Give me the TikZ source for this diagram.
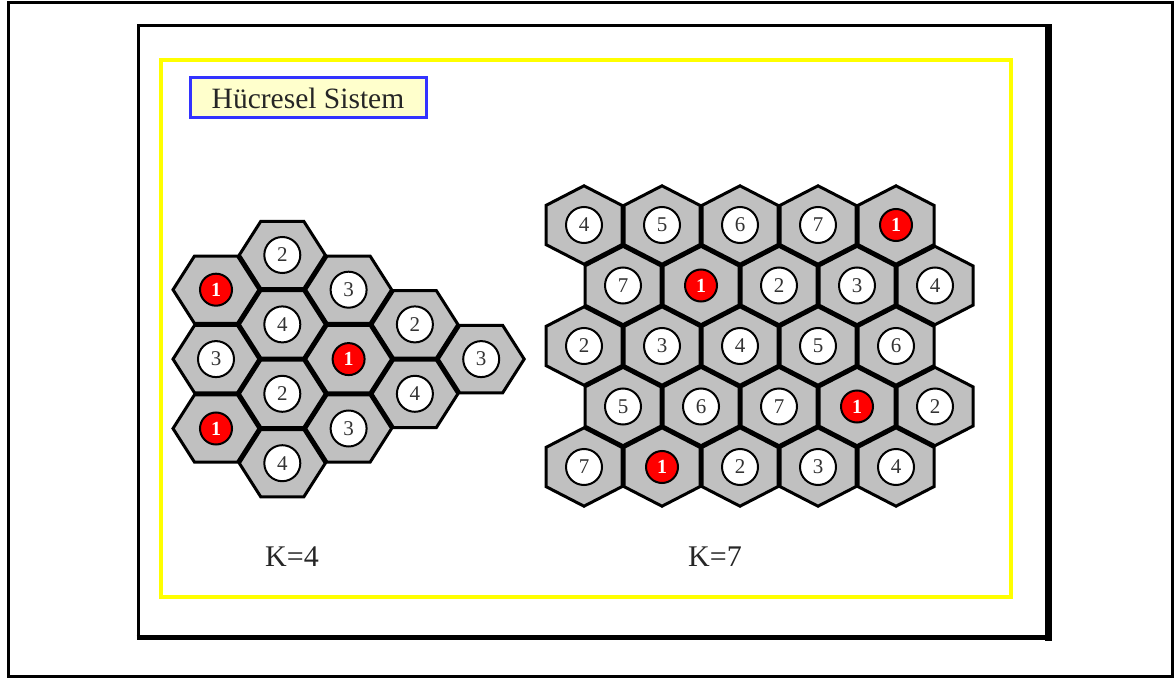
\documentclass[tikz,border=0pt]{standalone}
\usepackage{fontspec}
\setmainfont{Liberation Serif}
\definecolor{hexgray}{HTML}{C0C0C0}
\definecolor{boxblue}{HTML}{3333FF}
\definecolor{boxfill}{HTML}{FFFFCC}
\definecolor{frameyellow}{HTML}{FFFF00}
\definecolor{numgray}{HTML}{333333}
\newcommand\flathex[5]{%
  \draw[hexcell,shift={(#2,#3)}] (-43,0) -- (-21.5,-33.7) -- (21.5,-33.7) -- (43,0) -- (21.5,33.7) -- (-21.5,33.7) -- cycle;
  \node[#5] (#1) at (#2,#3) {#4};}
\newcommand\pointhex[5]{%
  \draw[hexcell,shift={(#2,#3)}] (0,-39.2) -- (38,-19.6) -- (38,19.6) -- (0,39.2) -- (-38,19.6) -- (-38,-19.6) -- cycle;
  \node[#5] (#1) at (#2,#3) {#4};}
\begin{document}
\begin{tikzpicture}[x=1pt,y=-1pt,
  cellnum/.style={circle,draw=black,line width=2pt,fill=white,minimum size=36pt,inner sep=0pt,
    font=\fontsize{21}{21}\selectfont,text=numgray},
  redcell/.style={cellnum,fill=red,minimum size=32pt,text=white,font=\fontsize{20}{20}\selectfont\bfseries},
  hexcell/.style={fill=hexgray,draw=black,line width=3pt,line join=miter},
  lbl/.style={font=\fontsize{30}{30}\selectfont,text=black!85,inner sep=0pt}]
\useasboundingbox (0,0) rectangle (1175,679);
\fill[white] (0,0) rectangle (1175,679);
% outer border
\draw[line width=3pt] (8,3) rectangle (1172,676);
% inner frame with heavier right and bottom edges
\draw[line width=3pt] (138.5,26) rectangle (1048.5,637.5);
\draw[line width=7pt] (1048.5,24.5) -- (1048.5,640.5);
\draw[line width=5pt] (136.5,637.5) -- (1052,637.5);
% yellow frame
\draw[frameyellow,line width=4pt] (161,60.5) rectangle (1011,597);
% title box
\node[draw=boxblue,fill=boxfill,line width=3pt,minimum width=236pt,minimum height=40pt,inner sep=0pt,
  font=\fontsize{29.5}{30}\selectfont,text=black!85] (title) at (308,98) {Hücresel Sistem};
% K=4 cluster
\foreach \c/\k/\n/\s [count=\i] in {0/1/1/redcell,0/3/3/cellnum,0/5/1/redcell,
    1/0/2/cellnum,1/2/4/cellnum,1/4/2/cellnum,1/6/4/cellnum,
    2/1/3/cellnum,2/3/1/redcell,2/5/3/cellnum,
    3/2/2/cellnum,3/4/4/cellnum,4/3/3/cellnum}{
  \pgfmathsetmacro\xx{216+66.3*\c}
  \pgfmathsetmacro\yy{255+34.7*\k}
  \edef\docell{\noexpand\flathex{L\i}{\xx}{\yy}{\n}{\s}}\docell
}
% K=7 cluster
\foreach \r/\c/\n/\s [count=\i] in {
    0/0/4/cellnum,0/1/5/cellnum,0/2/6/cellnum,0/3/7/cellnum,0/4/1/redcell,
    1/0/7/cellnum,1/1/1/redcell,1/2/2/cellnum,1/3/3/cellnum,1/4/4/cellnum,
    2/0/2/cellnum,2/1/3/cellnum,2/2/4/cellnum,2/3/5/cellnum,2/4/6/cellnum,
    3/0/5/cellnum,3/1/6/cellnum,3/2/7/cellnum,3/3/1/redcell,3/4/2/cellnum,
    4/0/7/cellnum,4/1/1/redcell,4/2/2/cellnum,4/3/3/cellnum,4/4/4/cellnum}{
  \pgfmathsetmacro\xx{584+78*\c+39*mod(\r,2)}
  \pgfmathsetmacro\yy{225+60.5*\r}
  \edef\docell{\noexpand\pointhex{R\i}{\xx}{\yy}{\n}{\s}}\docell
}
% labels
\node[lbl] (k4) at (292,557) {K=4};
\node[lbl] (k7) at (715,557) {K=7};
\end{tikzpicture}
\end{document}
